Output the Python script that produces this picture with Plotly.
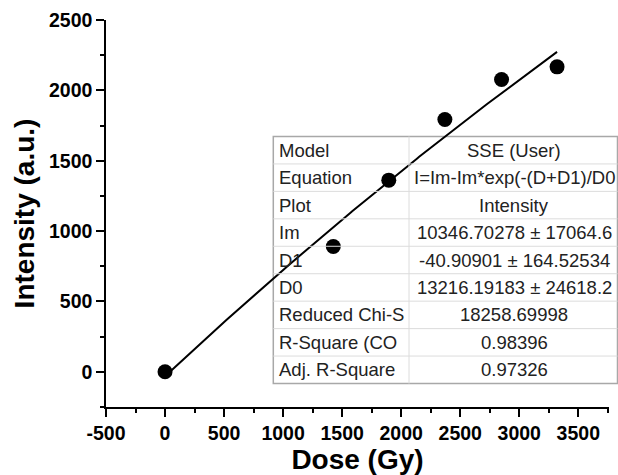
import numpy as np
import plotly.graph_objects as go

# ---- data ----
dose = [0, 1425, 1895, 2370, 2850, 3320]
intensity = [0, 890, 1362, 1793, 2077, 2167]

# fitted model parameters (shown in the table)
Im = 10346.70278
D1 = -40.90901
D0 = 13216.19183

table_labels = ["Model", "Equation", "Plot", "Im", "D1", "D0",
                "Reduced Chi-S", "R-Square (CO", "Adj. R-Square"]
table_values = ["SSE (User)", "I=Im-Im*exp(-(D+D1)/D0", "Intensity",
                "10346.70278 ± 17064.6", "-40.90901 ± 164.52534",
                "13216.19183 ± 24618.2", "18258.69998", "0.98396", "0.97326"]

x_ticks = [-500, 0, 500, 1000, 1500, 2000, 2500, 3000, 3500]
x_tick_text = ["-500", "0", "500", "1000", "1500", "2000", "2500", "3000", "3500"]
y_ticks = [0, 500, 1000, 1500, 2000, 2500]
y_tick_text = ["0", "500", "1000", "1500", "2000", "2500"]

# ---- layout geometry (pixels) ----
WIDTH, HEIGHT = 618, 475
ML, MR, MT, MB = 106, 9, 20, 68
PW, PH = WIDTH - ML - MR, HEIGHT - MT - MB


def px_x(p):
    return (p - ML) / PW


def px_y(p):
    return (HEIGHT - MB - p) / PH


fit_x = np.linspace(min(dose), max(dose), 200)
fit_y = Im - Im * np.exp(-(fit_x + D1) / D0)

fig = go.Figure()
fig.add_trace(go.Scatter(x=fit_x, y=fit_y, mode="lines",
                         line=dict(color="black", width=2), showlegend=False,
                         hoverinfo="skip"))
fig.add_trace(go.Scatter(x=dose, y=intensity, mode="markers",
                         marker=dict(color="black", size=15), showlegend=False))

# ---- table drawn with shapes and annotations ----
t_left, t_right, t_top, t_bottom, t_div = 273.3, 617.5, 136.5, 383.5, 409
n_rows = len(table_labels)
row_h = (t_bottom - t_top) / n_rows
shapes = []
shapes.append(dict(type="rect", xref="paper", yref="paper",
                   x0=px_x(t_left), x1=px_x(t_right), y0=px_y(t_bottom), y1=px_y(t_top),
                   line=dict(color="#a8a8a8", width=1.5), fillcolor="rgba(255,255,255,1)",
                   layer="below"))
for i in range(1, n_rows):
    yy = t_top + i * row_h
    shapes.append(dict(type="line", xref="paper", yref="paper",
                       x0=px_x(t_left), x1=px_x(t_right), y0=px_y(yy), y1=px_y(yy),
                       line=dict(color="#dcdcdc", width=1)))
shapes.append(dict(type="line", xref="paper", yref="paper",
                   x0=px_x(t_div), x1=px_x(t_div), y0=px_y(t_bottom), y1=px_y(t_top),
                   line=dict(color="#dcdcdc", width=1)))

annotations = []
tfont = dict(family="Liberation Sans, Arial", size=18.5, color="#222222")
for i, (lab, val) in enumerate(zip(table_labels, table_values)):
    yc = t_top + (i + 0.5) * row_h
    annotations.append(dict(xref="paper", yref="paper", x=px_x(t_left + 4), y=px_y(yc),
                            text=lab, showarrow=False, xanchor="left", yanchor="middle",
                            font=tfont))
    annotations.append(dict(xref="paper", yref="paper", x=px_x(514), y=px_y(yc),
                            text=val, showarrow=False, xanchor="center", yanchor="middle",
                            font=tfont))

axis_font = dict(family="Liberation Sans, Arial", size=19.5, color="black", weight="bold")
title_font = dict(family="Liberation Sans, Arial", size=28, color="black", weight="bold")

fig.update_layout(
    width=WIDTH, height=HEIGHT,
    margin=dict(l=ML, r=MR, t=MT, b=MB, autoexpand=False),
    plot_bgcolor="white", paper_bgcolor="white",
    shapes=shapes, annotations=annotations,
    xaxis=dict(range=[-500, 3760], tickvals=x_ticks, ticktext=x_tick_text,
               ticks="outside", ticklen=8, automargin=False,
               tickwidth=1.5, tickcolor="black", showline=True, linecolor="black",
               linewidth=1.5, showgrid=False, zeroline=False, tickfont=axis_font,
               minor=dict(dtick=250, tick0=0, ticks="outside", ticklen=4, tickwidth=1.5,
                          tickcolor="black", showgrid=False),
               title=dict(text="Dose (Gy)", font=title_font, standoff=11)),
    yaxis=dict(range=[-250, 2500], tickvals=y_ticks, ticktext=y_tick_text,
               ticks="outside", ticklen=8, automargin=False,
               tickwidth=1.5, tickcolor="black", showline=True, linecolor="black",
               linewidth=1.5, showgrid=False, zeroline=False, tickfont=axis_font,
               minor=dict(dtick=250, tick0=0, ticks="outside", ticklen=4, tickwidth=1.5,
                          tickcolor="black", showgrid=False),
               title=dict(text="Intensity (a.u.)", font=title_font, standoff=6)),
)

fig.write_html("out.html")
